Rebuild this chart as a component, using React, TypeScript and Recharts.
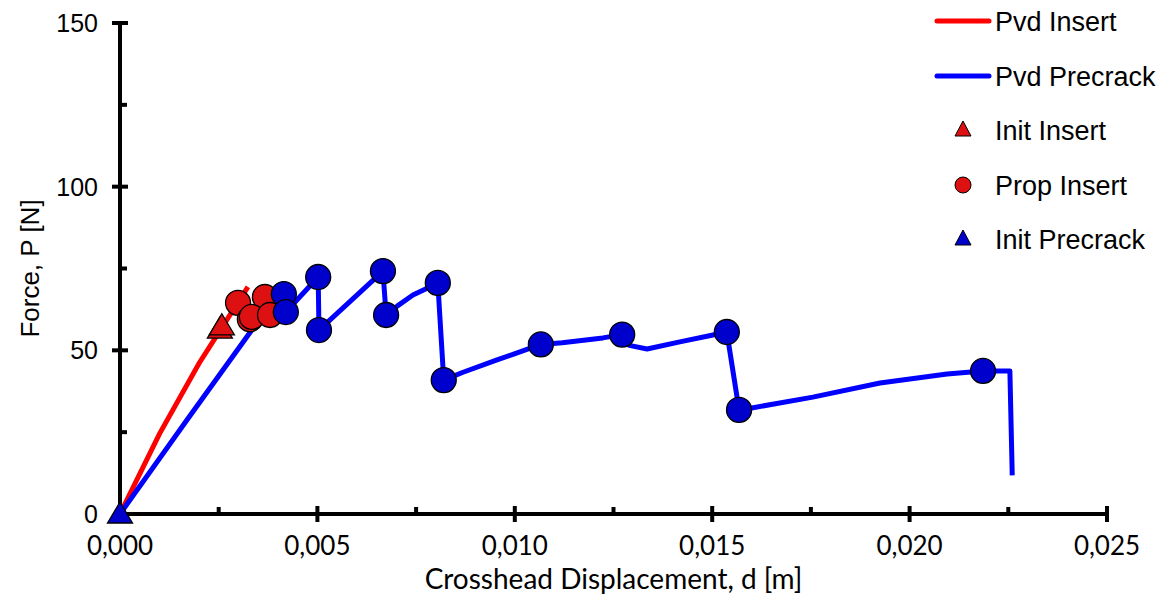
import React from 'react';
import { ComposedChart, Line, Scatter, XAxis, YAxis, Legend, ReferenceLine } from 'recharts';

// ---- axis ticks ----
const xTicks = [0, 0.0025, 0.005, 0.0075, 0.01, 0.0125, 0.015, 0.0175, 0.02, 0.0225, 0.025];
const xMajorTicks = [0, 0.005, 0.01, 0.015, 0.02, 0.025];
const yTicks = [0, 25, 50, 75, 100, 125, 150];
const yMajorTicks = [0, 50, 100, 150];

// ---- Pvd Insert (red curve) ----
const pvdInsertD = [0, 0.001, 0.002, 0.00324];
const pvdInsertP = [0, 24.5, 46.0, 69.4];

// ---- Pvd Precrack (blue curve) ----
const pvdPrecrackD = [
  0, 0.0017, 0.00347, 0.00415, 0.0042, 0.00502, 0.00504, 0.00666, 0.00674,
  0.00702, 0.00742, 0.00778, 0.00805, 0.0082, 0.00869, 0.00955, 0.01006, 0.01066, 0.0112,
  0.01223, 0.01272, 0.0129, 0.01335, 0.01418, 0.01502, 0.01537, 0.01568, 0.016, 0.01755,
  0.01925, 0.02095, 0.02186, 0.02254, 0.0226,
];
const pvdPrecrackP = [
  0, 28.8, 58.4, 67.2, 61.7, 72.4, 56.2, 74.2, 60.8,
  63.5, 66.9, 69.0, 70.6, 40.9, 43.3, 47.1, 49.2, 51.8, 52.3,
  53.8, 54.8, 51.5, 50.4, 52.6, 54.7, 55.6, 31.8, 32.4, 35.7,
  40.0, 42.8, 43.7, 43.7, 11.8,
];

// ---- markers ----
const initInsertD = [0.00253, 0.00258];
const initInsertP = [56.5, 57.5];
const propInsertD = [0.00299, 0.00367, 0.00329, 0.00334, 0.0038];
const propInsertP = [64.5, 66.3, 59.5, 60.2, 60.8];
const propPrecrackD = [0.00415, 0.0042, 0.00502, 0.00504, 0.00666, 0.00674, 0.00805, 0.0082, 0.01066, 0.01272, 0.01537, 0.01568, 0.02186];
const propPrecrackP = [67.2, 61.7, 72.4, 56.2, 74.2, 60.8, 70.6, 40.9, 51.8, 54.8, 55.6, 31.8, 43.7];
const initPrecrackD = [0];
const initPrecrackP = [0];

// ---- legend ----
const legendNames = ['Pvd Insert', 'Pvd Precrack', 'Init Insert', 'Prop Insert', 'Init Precrack'];
const legendKinds = ['line', 'line', 'triangle', 'circle', 'triangle'];
const legendColors = ['#FF0000', '#0000FF', '#DD1111', '#DD1111', '#0000CC'];

const RED_LINE = '#FF0000';
const BLUE_LINE = '#0000FF';
const RED_MARK = '#DD1111';
const BLUE_MARK = '#0000CC';

const zip = (d: number[], p: number[]) => d.map((v, i) => ({ d: v, p: p[i] }));

const ARIAL = '"Liberation Sans", Arial, sans-serif';
const CALIBRI = 'Lato, "Open Sans", sans-serif';

const isMajor = (v: number, list: number[]) => list.some((m) => Math.abs(m - v) < 1e-9);

const XTick = (props: any) => {
  const { x, y, payload } = props;
  const v = payload.value;
  const major = isMajor(v, xMajorTicks);
  const atOrigin = Math.abs(v) < 1e-12;
  return (
    <g>
      {!atOrigin &&
        (major ? (
          <line x1={x} x2={x} y1={y - 8} y2={y + 8} stroke="#000" strokeWidth={4} />
        ) : (
          <line x1={x} x2={x} y1={y} y2={y - 7} stroke="#000" strokeWidth={4} />
        ))}
      {major && (
        <text x={x} y={y + 41} textAnchor="middle" fontFamily={CALIBRI} fontSize={26} fill="#000">
          {v.toFixed(3).replace('.', ',')}
        </text>
      )}
    </g>
  );
};

const YTick = (props: any) => {
  const { x, y, payload } = props;
  const v = payload.value;
  const major = isMajor(v, yMajorTicks);
  const atOrigin = Math.abs(v) < 1e-12;
  return (
    <g>
      {!atOrigin &&
        (major ? (
          <line x1={x - 8} x2={x + 8} y1={y} y2={y} stroke="#000" strokeWidth={4} />
        ) : (
          <line x1={x} x2={x + 7} y1={y} y2={y} stroke="#000" strokeWidth={4} />
        ))}
      {major && (
        <text x={x - 22} y={y + 9} textAnchor="end" fontFamily={ARIAL} fontSize={25} fill="#000">
          {v}
        </text>
      )}
    </g>
  );
};

const CircleShape = (props: any) => {
  const { cx, cy, fill } = props;
  if (cx == null || cy == null) return null;
  return <circle cx={cx} cy={cy} r={12.5} fill={fill} stroke="#000" strokeWidth={1.3} />;
};

const TriangleShape = (props: any) => {
  const { cx, cy, fill } = props;
  if (cx == null || cy == null) return null;
  const pts = `${cx},${cy - 12} ${cx + 12.5},${cy + 9} ${cx - 12.5},${cy + 9}`;
  return <polygon points={pts} fill={fill} stroke="#000" strokeWidth={1.3} strokeLinejoin="miter" />;
};

const XTitle = (props: any) => {
  const vb = props.viewBox || { x: 120, y: 514, width: 987, height: 82 };
  return (
    <text x={vb.x + vb.width / 2} y={vb.y + 75} textAnchor="middle" fontFamily={CALIBRI} fontSize={28} fill="#000">
      Crosshead Displacement, d [m]
    </text>
  );
};

const YTitle = (props: any) => {
  const vb = props.viewBox || { x: 0, y: 23, width: 120, height: 491 };
  const cx = vb.x + 39;
  const cy = vb.y + vb.height / 2;
  return (
    <text x={cx} y={cy} transform={`rotate(-90 ${cx} ${cy})`} textAnchor="middle" fontFamily={ARIAL} fontSize={26} fill="#000">
      Force, P [N]
    </text>
  );
};

const renderLegend = () => {
  const rowY = [21, 76, 130, 185, 239];
  return (
    <svg width={234} height={262} style={{ display: 'block' }}>
      {legendNames.map((name, i) => {
        const y = rowY[i];
        const kind = legendKinds[i];
        const color = legendColors[i];
        return (
          <g key={name}>
            {kind === 'line' && (
              <line x1={9} x2={61} y1={y} y2={y} stroke={color} strokeWidth={5} strokeLinecap="round" />
            )}
            {kind === 'circle' && <circle cx={35} cy={y} r={8} fill={color} stroke="#000" strokeWidth={1} />}
            {kind === 'triangle' && (
              <polygon points={`35,${y - 9} 43,${y + 6} 27,${y + 6}`} fill={color} stroke="#000" strokeWidth={1} />
            )}
            <text x={67} y={y + 9.5} fontFamily={ARIAL} fontSize={27} fill="#000">
              {name}
            </text>
          </g>
        );
      })}
    </svg>
  );
};

export default function App() {
  return (
    <div style={{ position: 'absolute', left: 0, top: 0, width: 1164, height: 596, background: '#fff' }}>
      <ComposedChart width={1164} height={596} margin={{ top: 23, right: 57, left: 0, bottom: 0 }}>
        <XAxis
          type="number"
          dataKey="d"
          domain={[0, 0.025]}
          ticks={xTicks}
          interval={0}
          height={82}
          tickSize={0}
          tickMargin={0}
          tickLine={false}
          axisLine={false}
          tick={<XTick />}
          label={<XTitle />}
        />
        <YAxis
          type="number"
          dataKey="p"
          domain={[0, 150]}
          ticks={yTicks}
          interval={0}
          width={120}
          tickSize={0}
          tickMargin={0}
          tickLine={false}
          axisLine={false}
          tick={<YTick />}
          label={<YTitle />}
        />
        <ReferenceLine x={0} stroke="#000" strokeWidth={4} />
        <ReferenceLine y={0} stroke="#000" strokeWidth={4} />
        <Legend
          layout="vertical"
          align="center"
          verticalAlign="middle"
          wrapperStyle={{ left: 928, top: 0, width: 236, height: 262 }}
          content={renderLegend}
        />
        <Line
          data={zip(pvdInsertD, pvdInsertP)}
          dataKey="p"
          type="linear"
          stroke={RED_LINE}
          strokeWidth={5}
          dot={false}
          activeDot={false}
          isAnimationActive={false}
          name="Pvd Insert"
        />
        <Line
          data={zip(pvdPrecrackD, pvdPrecrackP)}
          dataKey="p"
          type="linear"
          stroke={BLUE_LINE}
          strokeWidth={5}
          strokeLinejoin="round"
          dot={false}
          activeDot={false}
          isAnimationActive={false}
          name="Pvd Precrack"
        />
        <Scatter data={zip(initInsertD, initInsertP)} dataKey="p" fill={RED_MARK} shape={<TriangleShape />} isAnimationActive={false} name="Init Insert" />
        <Scatter data={zip(propInsertD, propInsertP)} dataKey="p" fill={RED_MARK} shape={<CircleShape />} isAnimationActive={false} name="Prop Insert" />
        <Scatter data={zip(propPrecrackD, propPrecrackP)} dataKey="p" fill={BLUE_MARK} shape={<CircleShape />} isAnimationActive={false} legendType="none" name="Prop Precrack" />
        <Scatter data={zip(initPrecrackD, initPrecrackP)} dataKey="p" fill={BLUE_MARK} shape={<TriangleShape />} isAnimationActive={false} name="Init Precrack" />
      </ComposedChart>
    </div>
  );
}
